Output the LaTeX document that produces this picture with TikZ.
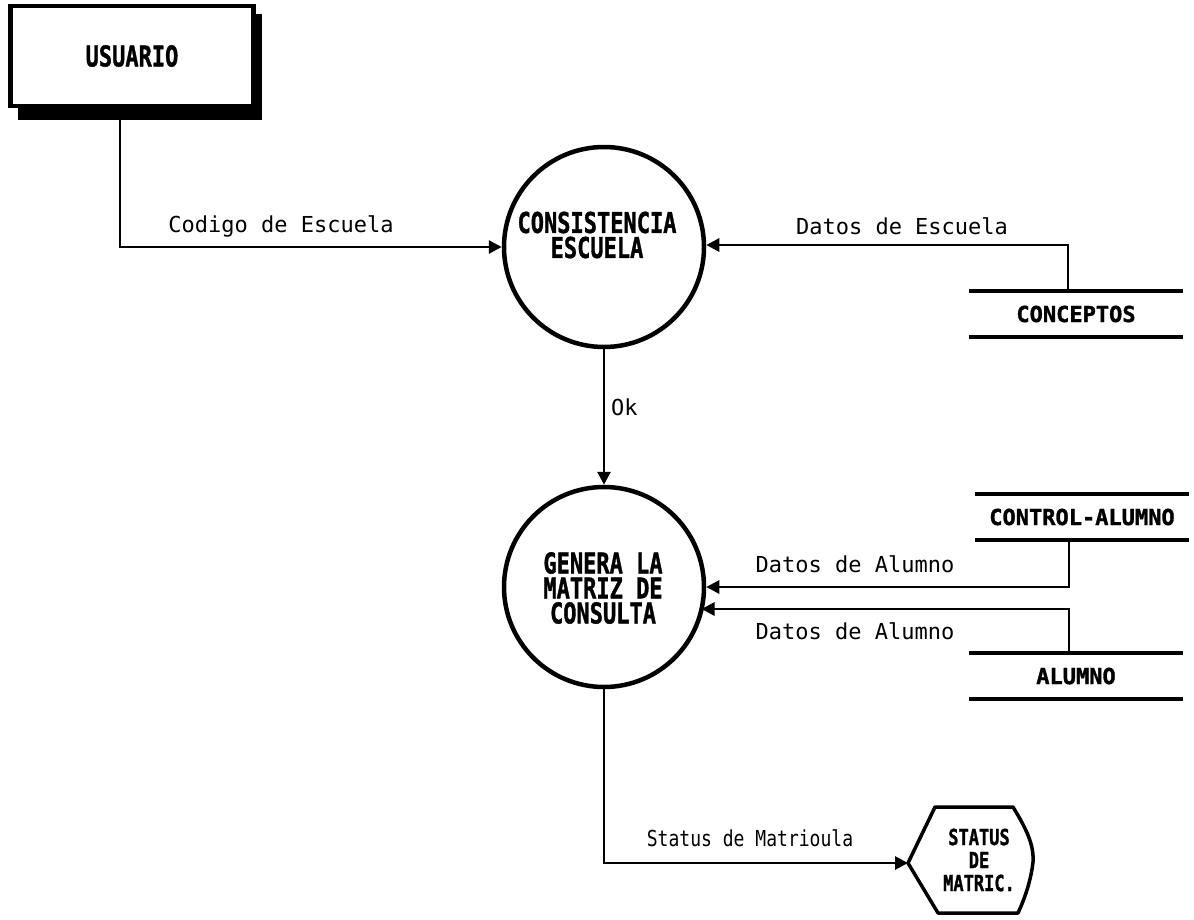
\documentclass[tikz,border=0pt]{standalone}
\usepackage{fontspec}
\usetikzlibrary{arrows.meta,calc}
\newfontfamily\flowfont{DejaVu Sans Mono}
\newfontfamily\boxfont[FakeBold=1.5]{DejaVu Sans Mono Bold}
\newcommand{\tallbox}[2][1.3]{\scalebox{1}[#1]{#2}}
\begin{document}
\begin{tikzpicture}[x=1pt,y=-1pt,
  flow/.style={line width=2.8pt,-{Triangle[length=13pt,width=13pt]}},
  flowlabel/.style={font=\flowfont\fontsize{22}{22}\selectfont,inner sep=0pt},
  process/.style={circle,draw,line width=4.5pt,minimum size=200pt,inner sep=0pt},
  proctext/.style={inner sep=0pt,align=center,font=\boxfont\fontsize{22}{25}\selectfont},
  entity/.style={draw,line width=4.5pt,minimum width=243pt,minimum height=100pt,fill=white,
    font=\boxfont\fontsize{22}{22}\selectfont},
  storetext/.style={minimum width=213pt,minimum height=45pt,inner sep=0pt,
    font=\boxfont\fontsize{22}{22}\selectfont},
  storeline/.style={line width=4pt},
  termtext/.style={inner sep=0pt,align=center,font=\boxfont\fontsize{17}{23}\selectfont}]
\useasboundingbox (0,0) rectangle (1194,919);

% external entity with drop shadow
\fill (18,14) rectangle (262,120);
\node[entity] (usuario) at (132,56) {\tallbox{USUARIO}};

% processes
\node[process] (cons) at (604,247) {};
\node[proctext] (constext) at (597,235) {\tallbox{CONSISTENCIA}\\\tallbox{ESCUELA}};
\node[process] (gen) at (604,587) {};
\node[proctext] (gentext) at (603,588)
  {\tallbox{GENERA LA}\\\tallbox{MATRIZ DE}\\\tallbox{CONSULTA}};

% data stores
\node[storetext] (conceptos) at (1076,314) {CONCEPTOS};
\node[storetext] (control) at (1082,517) {CONTROL-ALUMNO};
\node[storetext] (alumno) at (1076,676) {ALUMNO};
\foreach \s in {conceptos,control,alumno}{
  \draw[storeline] (\s.north west) -- (\s.north east);
  \draw[storeline] (\s.south west) -- (\s.south east);
}

% terminal (hexagon)
\node[termtext] (status) at (979,860) {\tallbox{STATUS}\\\tallbox{DE}\\\tallbox{MATRIC.}};
\coordinate (hexw) at (908,863);
\draw[line width=3.5pt,line join=round] (hexw) -- (935,807) -- (1013,807)
  .. controls (1027,830) and (1034,845) .. (1033,862)
  .. controls (1031,880) and (1025,898) .. (1018,913) -- (938,913) -- cycle;

% flows
\draw[flow] (120,106) |- (cons.west);
\node[flowlabel] (lcod) at (281,226) {Codigo de Escuela};

\draw[flow] (conceptos.north -| 1068,0) -- (1068,245) -- (cons.east |- 0,245);
\node[flowlabel] (ldesc) at (902,226) {Datos de Escuela};

\draw[flow] (cons.south) -- (gen.north);
\node[flowlabel,anchor=west] (lok) at (611,407) {Ok};

\coordinate (genin2) at ($(gen.center)+(97.5,22)$);
\draw[flow] (control.south -| 1069,0) -- (1069,587) -- (gen.east);
\node[flowlabel] (lal1) at (855,564) {Datos de Alumno};
\draw[flow] (alumno.north -| 1069,0) -- (1069,609) -- (genin2);
\node[flowlabel] (lal2) at (855,631) {Datos de Alumno};

\draw[flow] (gen.south) |- (hexw);
\node[flowlabel] (lstat) at (750,838) {\scalebox{0.82}[1]{Status de Matrioula}};
\end{tikzpicture}
\end{document}
